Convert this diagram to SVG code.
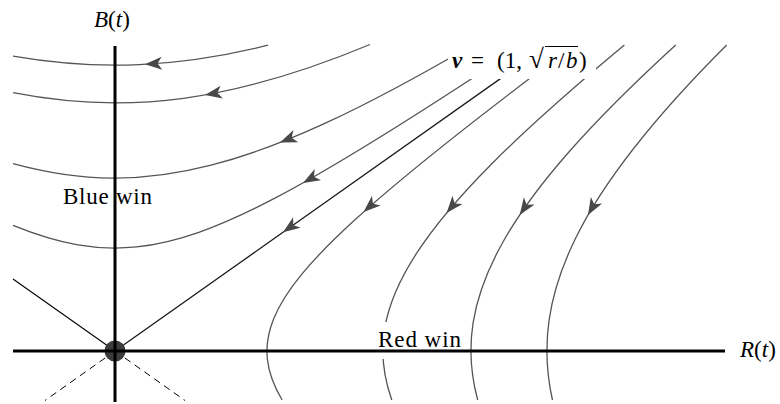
<svg xmlns="http://www.w3.org/2000/svg" xmlns:xlink="http://www.w3.org/1999/xlink" width="780" height="404" viewBox="0 0 780 404">
<style>
.traj{fill:none;stroke:#555;stroke-width:1.3}
.axis{stroke:#000;stroke-width:3;fill:none}
.lbl{font-family:"Liberation Serif","DejaVu Serif",serif;font-size:23px;fill:#000}
.it{font-style:italic}
.bg{fill:#fff}
</style>
<defs>
<path id="ah" d="M0,0 L-17,-6.5 L-12.5,0 L-17,6.5 Z" fill="#484848"/>
</defs>
<rect width="780" height="404" fill="#fff"/>
<g id="connectors">
<path class="traj" d="M13,56.05 C99.1,70.9 178.7,67.5 268,45.2"/>
<path class="traj" d="M13,92.7 C71.5,104.2 126.1,106.05 183.4,98.3 C240.7,90.55 300.5,73.4 370,44.5"/>
<path class="traj" d="M13,163.6 C82.7,182.5 142,183 211.1,165.2 C280.2,147.4 358.3,111.5 472,45.2"/>
<path class="traj" d="M13,225.3 C60.45,244.5 97.3,251 136.6,246.9 C175.9,242.8 217.2,228.3 274.9,198.15 C332.6,168 405.9,122.7 521,46.2"/>
<path class="traj" d="M282.1,400 C265.1,371 262.5,346.3 273.7,318.8 C284.9,291.25 309.7,261.05 355.5,219.3 C401.3,177.55 467.6,124.7 574,45"/>
<path class="traj" d="M391.8,400 C374.3,350.7 382,306.1 417.3,252.2 C452.6,198.3 515.1,135.8 624.4,45"/>
<path class="traj" d="M477.7,400 C463.6,347.9 471.3,298.8 502.3,243.2 C533.3,187.6 587.6,125.6 675.7,45"/>
<path class="traj" d="M552.5,400 C540.4,346.3 547.8,294.8 575.6,238.2 C603.4,181.6 651.4,120.1 726.7,45"/>
<line x1="115" y1="351" x2="548" y2="45" stroke="#1a1a1a" stroke-width="1.3"/>
<line x1="13" y1="279" x2="115" y2="351" stroke="#000" stroke-width="1.1"/>
<line x1="115" y1="351" x2="45" y2="400.5" stroke="#000" stroke-width="1" stroke-dasharray="7,5"/>
<line x1="115" y1="351" x2="185" y2="400.5" stroke="#000" stroke-width="1" stroke-dasharray="7,5"/>
<use xlink:href="#ah" transform="translate(145,64.2) rotate(177)"/>
<use xlink:href="#ah" transform="translate(205,95) rotate(170)"/>
<use xlink:href="#ah" transform="translate(280,142.4) rotate(158.5)"/>
<use xlink:href="#ah" transform="translate(303,182.9) rotate(150.8)"/>
<use xlink:href="#ah" transform="translate(283,232.3) rotate(144.75)"/>
<use xlink:href="#ah" transform="translate(363.6,212) rotate(138.3)"/>
<use xlink:href="#ah" transform="translate(446.6,213) rotate(129.8)"/>
<use xlink:href="#ah" transform="translate(519.7,215) rotate(124)"/>
<use xlink:href="#ah" transform="translate(588,215) rotate(120)"/>
</g>
<g id="label-backgrounds">
<rect class="bg" x="448" y="38" width="148" height="41"/>
<rect class="bg" x="374" y="322" width="92" height="37"/>
</g>
<g id="origin">
<circle cx="115" cy="351" r="10.5" fill="#3c3c3c"/>
</g>
<g id="axes">
<line class="axis" x1="115" y1="46" x2="115" y2="402"/>
<line class="axis" x1="13" y1="351" x2="725" y2="351"/>
</g>
<g id="labels">
<text class="lbl" x="94" y="27"><tspan class="it">B</tspan>(<tspan class="it">t</tspan>)</text>
<text class="lbl" x="740" y="357"><tspan class="it">R</tspan>(<tspan class="it">t</tspan>)</text>
<text class="lbl" x="63" y="204" textLength="89" lengthAdjust="spacing">Blue win</text>
<text class="lbl" x="378" y="347" textLength="83" lengthAdjust="spacing">Red win</text>
<text class="lbl" y="68"><tspan x="452" font-weight="bold" font-style="italic">v</tspan><tspan x="471">=</tspan><tspan x="497">(1,</tspan><tspan x="529" font-size="27">√</tspan><tspan class="it" x="548">r</tspan><tspan x="558">/</tspan><tspan class="it" x="566">b</tspan><tspan x="579">)</tspan></text>
<line x1="545" y1="46.5" x2="578" y2="46.5" stroke="#000" stroke-width="1"/>
</g>
</svg>
